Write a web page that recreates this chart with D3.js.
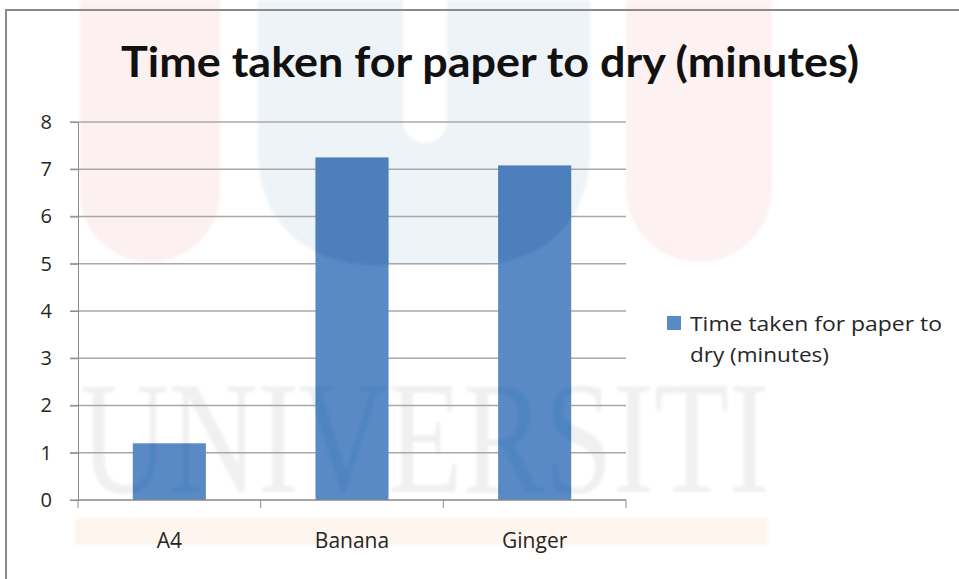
<!DOCTYPE html>
<html>
<head>
<meta charset="UTF-8">
<title>Time taken for paper to dry</title>
<style>
  body{ margin:0; background:#fff; }
  #canvas{ width:959px; height:579px; }
  .tick text{ font-family: "Open Sans", sans-serif; font-size:20px; fill:#262626; }
</style>
<script src="https://cdn.jsdelivr.net/npm/d3@7/dist/d3.min.js"></script>
</head>
<body>
<div id="canvas"></div>
<script>
  // data
  var categories = ["A4", "Banana", "Ginger"];
  var values = [1.2, 7.25, 7.08];
  var yTicks = [0, 1, 2, 3, 4, 5, 6, 7, 8];
  var seriesName = "Time taken for paper to dry (minutes)";
  var legendLines = ["Time taken for paper to", "dry (minutes)"];
  var legendWidths = [252, 139];

  var width = 959, height = 579;
  var margin = {top: 122, left: 78, bottom: 79, right: 333};
  var innerWidth = width - margin.left - margin.right;
  var innerHeight = height - margin.top - margin.bottom;

  var svg = d3.select("#canvas").append("svg")
      .attr("width", width)
      .attr("height", height);

  var defs = svg.append("defs");
  defs.append("filter").attr("id", "soft")
    .append("feGaussianBlur").attr("stdDeviation", 1.5);

  // watermark shapes (page background)
  function pillPath(x, w, h){
    var r = w / 2;
    return "M" + x + ",0 L" + (x + w) + ",0 L" + (x + w) + "," + (h - r) +
           " A" + r + "," + r + " 0 0 1 " + x + "," + (h - r) + " Z";
  }
  var blueShape = "M258,0 L590,0 L590,150 C590,225 540,265 470,265 L378,265 " +
                  "C308,265 258,225 258,150 Z";
  var wm = svg.append("g").attr("filter", "url(#soft)");
  wm.append("path").attr("d", pillPath(80, 140, 262)).attr("fill", "#fdf0f0");
  wm.append("path").attr("d", pillPath(626, 146, 262)).attr("fill", "#fdf1f1");
  wm.append("path").attr("d", blueShape).attr("fill", "#eef3f8");
  wm.append("path").attr("d", pillPath(403, 44, 143)).attr("fill", "#ffffff");
  var wmText = function(sel){
    return sel.attr("x", 80).attr("y", 492)
      .attr("textLength", 690)
      .attr("lengthAdjust", "spacingAndGlyphs")
      .style("font-family", "'Liberation Serif', 'DejaVu Serif', serif")
      .style("font-size", "160px")
      .text("UNIVERSITI");
  };
  wm.append("text").call(wmText).attr("fill", "#f0f0f0");
  wm.append("rect").attr("x", 75).attr("y", 518).attr("width", 693).attr("height", 27).attr("fill", "#fdf5ee");

  // chart border
  svg.append("path")
    .attr("d", "M6," + height + " L6,10 L" + width + ",10")
    .attr("fill", "none")
    .attr("stroke", "#8a8a8a")
    .attr("stroke-width", 2);

  // scales
  var x = d3.scaleBand()
      .domain(categories)
      .range([0, innerWidth])
      .paddingInner(0.6)
      .paddingOuter(0.3);

  var y = d3.scaleLinear()
      .domain([0, 8])
      .range([innerHeight, 0]);

  var g = svg.append("g")
      .attr("transform", "translate(" + margin.left + "," + margin.top + ")");

  // gridlines
  g.append("g")
    .selectAll("line")
    .data(yTicks)
    .enter().append("line")
    .attr("x1", -8)
    .attr("x2", innerWidth)
    .attr("y1", function(d){ return y(d); })
    .attr("y2", function(d){ return y(d); })
    .attr("stroke", "#a8a8a8")
    .attr("stroke-width", 1.3);

  // y axis
  var yAxis = d3.axisLeft(y).tickValues(yTicks).tickSize(8).tickPadding(18);
  var ya = g.append("g").call(yAxis);
  ya.select(".domain").attr("stroke", "#8c8c8c");
  ya.selectAll(".tick line").attr("stroke", "#8c8c8c");

  // bars
  g.selectAll(".bar")
    .data(values)
    .enter().append("rect")
    .attr("class", "bar")
    .attr("x", function(d, i){ return x(categories[i]); })
    .attr("width", x.bandwidth())
    .attr("y", function(d){ return y(d); })
    .attr("height", function(d){ return innerHeight - y(d); })
    .attr("fill", "#5a8ac5");

  // watermark showing through the bars
  var clip = defs.append("clipPath").attr("id", "barclip");
  clip.selectAll("rect")
    .data(values)
    .enter().append("rect")
    .attr("x", function(d, i){ return margin.left + x(categories[i]); })
    .attr("width", x.bandwidth())
    .attr("y", function(d){ return margin.top + y(d); })
    .attr("height", function(d){ return innerHeight - y(d); });
  var over = svg.append("g").attr("clip-path", "url(#barclip)");
  var overIn = over.append("g").attr("filter", "url(#soft)");
  overIn.append("path").attr("d", blueShape).attr("fill", "#175aa0").attr("fill-opacity", 0.25);
  overIn.append("text").call(wmText).attr("fill", "#175aa0").attr("fill-opacity", 0.13);

  // x axis (ticks between categories)
  var xa = g.append("g")
      .attr("transform", "translate(0," + innerHeight + ")");
  xa.append("line")
    .attr("x1", 0).attr("x2", innerWidth)
    .attr("stroke", "#8c8c8c");
  var step = innerWidth / categories.length;
  xa.selectAll(".xt")
    .data(d3.range(categories.length + 1))
    .enter().append("line")
    .attr("x1", function(d){ return d * step; })
    .attr("x2", function(d){ return d * step; })
    .attr("y1", 0).attr("y2", 8)
    .attr("stroke", "#8c8c8c");
  xa.selectAll(".xl")
    .data(categories)
    .enter().append("text")
    .attr("x", function(d){ return x(d) + x.bandwidth() / 2; })
    .attr("y", 48)
    .attr("text-anchor", "middle")
    .style("font-family", "'Open Sans', sans-serif")
    .style("font-size", "21px")
    .attr("fill", "#262626")
    .text(function(d){ return d; });

  // title
  svg.append("text")
    .attr("x", 121).attr("y", 77)
    .attr("textLength", 738)
    .attr("lengthAdjust", "spacingAndGlyphs")
    .style("font-family", "Lato, 'Open Sans', sans-serif")
    .style("font-weight", "bold")
    .style("font-size", "42px")
    .attr("fill", "#111")
    .text(seriesName);

  // legend
  var lg = svg.append("g").attr("transform", "translate(667,316)");
  lg.append("rect").attr("width", 14).attr("height", 14).attr("fill", "#5a8ac5");
  lg.selectAll("text")
    .data(legendLines)
    .enter().append("text")
    .attr("x", 23)
    .attr("y", function(d, i){ return 15 + i * 31; })
    .attr("textLength", function(d, i){ return legendWidths[i]; })
    .attr("lengthAdjust", "spacingAndGlyphs")
    .style("font-family", "'Open Sans', sans-serif")
    .style("font-size", "20px")
    .attr("fill", "#262626")
    .text(function(d){ return d; });
</script>
</body>
</html>
